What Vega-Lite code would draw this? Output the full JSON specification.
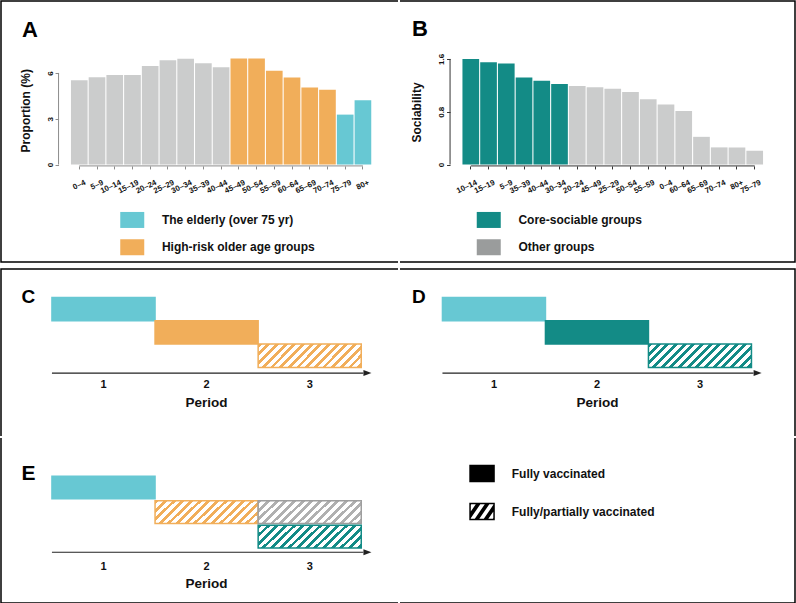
{
  "$schema": "https://vega.github.io/schema/vega-lite/v6.json",
  "background": "white",
  "padding": 0,
  "config": {"font": "Liberation Sans", "view": {"stroke": null}, "legend": {"padding": 0}},
  "datasets": {
    "proportion": [
      {"age": "0–4", "value": 5.52, "group": "Other"},
      {"age": "5–9", "value": 5.72, "group": "Other"},
      {"age": "10–14", "value": 5.87, "group": "Other"},
      {"age": "15–19", "value": 5.87, "group": "Other"},
      {"age": "20–24", "value": 6.46, "group": "Other"},
      {"age": "25–29", "value": 6.83, "group": "Other"},
      {"age": "30–34", "value": 6.92, "group": "Other"},
      {"age": "35–39", "value": 6.63, "group": "Other"},
      {"age": "40–44", "value": 6.37, "group": "Other"},
      {"age": "45–49", "value": 6.94, "group": "High-risk older age groups"},
      {"age": "50–54", "value": 6.94, "group": "High-risk older age groups"},
      {"age": "55–59", "value": 6.15, "group": "High-risk older age groups"},
      {"age": "60–64", "value": 5.7, "group": "High-risk older age groups"},
      {"age": "65–69", "value": 5.04, "group": "High-risk older age groups"},
      {"age": "70–74", "value": 4.89, "group": "High-risk older age groups"},
      {"age": "75–79", "value": 3.27, "group": "The elderly (over 75 yr)"},
      {"age": "80+", "value": 4.21, "group": "The elderly (over 75 yr)"}
    ],
    "sociability": [
      {"age": "10–14", "value": 1.6, "group": "Core-sociable groups"},
      {"age": "15–19", "value": 1.55, "group": "Core-sociable groups"},
      {"age": "5–9", "value": 1.53, "group": "Core-sociable groups"},
      {"age": "35–39", "value": 1.32, "group": "Core-sociable groups"},
      {"age": "40–44", "value": 1.27, "group": "Core-sociable groups"},
      {"age": "30–34", "value": 1.22, "group": "Core-sociable groups"},
      {"age": "20–24", "value": 1.19, "group": "Other groups"},
      {"age": "45–49", "value": 1.17, "group": "Other groups"},
      {"age": "25–29", "value": 1.15, "group": "Other groups"},
      {"age": "50–54", "value": 1.1, "group": "Other groups"},
      {"age": "55–59", "value": 0.99, "group": "Other groups"},
      {"age": "0–4", "value": 0.91, "group": "Other groups"},
      {"age": "60–64", "value": 0.81, "group": "Other groups"},
      {"age": "65–69", "value": 0.42, "group": "Other groups"},
      {"age": "70–74", "value": 0.26, "group": "Other groups"},
      {"age": "80+", "value": 0.26, "group": "Other groups"},
      {"age": "75–79", "value": 0.21, "group": "Other groups"}
    ],
    "panelC": [
      {"period": 1, "level": 1, "group": "elderly", "status": "full"},
      {"period": 2, "level": 2, "group": "highrisk", "status": "full"},
      {"period": 3, "level": 3, "group": "highrisk", "status": "partial"}
    ],
    "panelD": [
      {"period": 1, "level": 1, "group": "elderly", "status": "full"},
      {"period": 2, "level": 2, "group": "core", "status": "full"},
      {"period": 3, "level": 3, "group": "core", "status": "partial"}
    ],
    "panelE": [
      {"period": 1, "level": 1, "group": "elderly", "status": "full"},
      {"period": 2, "level": 2, "group": "highrisk", "status": "partial"},
      {"period": 3, "level": 2, "group": "other", "status": "partial"},
      {"period": 3, "level": 3, "group": "core", "status": "partial"}
    ],
    "status": [
      {"status": "Fully vaccinated"},
      {"status": "Fully/partially vaccinated"}
    ]
  },
  "spacing": 5,
  "resolve": {"scale": {"color": "independent", "fill": "independent", "stroke": "independent", "shape": "independent"}},
  "vconcat": [
    {
      "spacing": 0,
      "resolve": {"scale": {"color": "independent", "fill": "independent", "stroke": "independent", "shape": "independent"}},
      "hconcat": [
        {
          "width": 397, "height": 261,
          "view": {"stroke": "#000000", "strokeWidth": 1.5, "strokeDash": [397, 261, 658]},
          "title": {"text": "A", "anchor": "start", "frame": "group", "orient": "top", "offset": -41, "dx": 21, "fontSize": 22, "fontWeight": "bold", "color": "#000000"},
          "layer": [
            {
              "data": {"name": "proportion"},
              "mark": {"type": "bar"},
              "encoding": {
                "x": {"field": "age", "type": "nominal", "sort": null,
                  "scale": {"domain": ["0–4","5–9","10–14","15–19","20–24","25–29","30–34","35–39","40–44","45–49","50–54","55–59","60–64","65–69","70–74","75–79","80+"], "range": [69.95, 370.25], "paddingInner": 0.06, "paddingOuter": 0},
                  "axis": {"orient": "bottom", "offset": -96.05, "domain": false, "ticks": true, "tickSize": 3, "tickColor": "#8C8C8C", "tickWidth": 1, "labelAngle": -25, "labelAlign": "right", "labelBaseline": "middle", "labelPadding": 13, "labelOffset": 6, "labelFontSize": 7.8, "labelFontWeight": "bold", "labelColor": "#111111", "labelOverlap": false, "labelBound": false, "title": null, "grid": false}},
                "y": {"field": "value", "type": "quantitative",
                  "scale": {"domain": [-6.382, 10.71], "nice": false, "zero": false},
                  "axis": {"orient": "left", "offset": -57.55, "values": [0, 3, 6], "format": "~g", "domain": false, "ticks": true, "tickSize": 3.5, "tickColor": "#8C8C8C", "labelAngle": -90, "labelAlign": "center", "labelBaseline": "middle", "labelPadding": 4.7, "labelFontSize": 8, "labelFontWeight": "bold", "labelColor": "#111111", "grid": false, "title": "Proportion (%)", "titleFontSize": 12, "titleFontWeight": "bold", "titleColor": "#111111", "titleAngle": -90, "titleX": -33.3, "titleY": 109.25, "titleAlign": "center", "titleBaseline": "middle"}},
                "y2": {"datum": 0},
                "color": {"field": "group", "type": "nominal",
                  "scale": {"domain": ["The elderly (over 75 yr)", "High-risk older age groups", "Other"], "range": ["#67C8D3", "#F1AE5A", "#CBCCCC"]},
                  "legend": {"orient": "none", "legendX": 123.25, "legendY": 210.95, "title": null, "values": ["The elderly (over 75 yr)", "High-risk older age groups"], "symbolType": "M-1.5,-1L1.5,-1L1.5,1L-1.5,1Z", "symbolSize": 256, "symbolStrokeWidth": 0, "labelFontSize": 12, "labelFontWeight": "bold", "labelColor": "#111111", "labelOffset": 21.7, "labelLimit": 300, "rowPadding": 11.3, "padding": 0}}
              }
            },
            {
              "data": {"values": [{}]},
              "mark": {"type": "rule", "color": "#8C8C8C", "strokeWidth": 1},
              "encoding": {"x": {"datum": "0–4", "type": "nominal", "bandPosition": -0.744}, "y": {"datum": 0, "type": "quantitative"}, "y2": {"datum": 6}}
            },
            {
              "data": {"values": [{}]},
              "mark": {"type": "rule", "color": "#8C8C8C", "strokeWidth": 1},
              "encoding": {"x": {"datum": "0–4", "type": "nominal", "bandPosition": 0.5}, "x2": {"datum": "80+", "bandPosition": 0.5}, "y": {"datum": -0.09, "type": "quantitative"}}
            }
          ]
        },
        {
          "width": 395, "height": 261,
          "view": {"stroke": "#000000", "strokeWidth": 1.5, "strokeDash": [1051, 261]},
          "title": {"text": "B", "anchor": "start", "frame": "group", "orient": "top", "offset": -40.3, "dx": 12, "fontSize": 22, "fontWeight": "bold", "color": "#000000"},
          "layer": [
            {
              "data": {"name": "sociability"},
              "mark": {"type": "bar"},
              "encoding": {
                "x": {"field": "age", "type": "nominal", "sort": null,
                  "scale": {"domain": ["10–14","15–19","5–9","35–39","40–44","30–34","20–24","45–49","25–29","50–54","55–59","0–4","60–64","65–69","70–74","80+","75–79"], "range": [62.45, 363.05], "paddingInner": 0.06, "paddingOuter": 0},
                  "axis": {"orient": "bottom", "offset": -96.05, "domain": false, "ticks": true, "tickSize": 3, "tickColor": "#333333", "tickWidth": 1, "labelAngle": -25, "labelAlign": "right", "labelBaseline": "middle", "labelPadding": 13, "labelOffset": 6, "labelFontSize": 7.8, "labelFontWeight": "bold", "labelColor": "#111111", "labelOverlap": false, "labelBound": false, "title": null, "grid": false}},
                "y": {"field": "value", "type": "quantitative",
                  "scale": {"domain": [-1.4765, 2.478], "nice": false, "zero": false},
                  "axis": {"orient": "left", "offset": -50.05, "values": [0, 0.8, 1.6], "format": "~g", "domain": false, "ticks": true, "tickSize": 3.5, "tickColor": "#333333", "labelAngle": -90, "labelAlign": "center", "labelBaseline": "middle", "labelPadding": 4.7, "labelFontSize": 8, "labelFontWeight": "bold", "labelColor": "#111111", "grid": false, "title": "Sociability", "titleFontSize": 12, "titleFontWeight": "bold", "titleColor": "#111111", "titleAngle": -90, "titleX": -33.3, "titleY": 110.95, "titleAlign": "center", "titleBaseline": "middle"}},
                "y2": {"datum": 0},
                "color": {"field": "group", "type": "nominal",
                  "scale": {"domain": ["Core-sociable groups", "Other groups"], "range": ["#138B86", "#9A9C9C"]},
                  "condition": {"test": "datum.group === 'Other groups'", "value": "#CBCCCC"},
                  "legend": {"orient": "none", "legendX": 80.75, "legendY": 210.95, "title": null, "symbolType": "M-1.5,-1L1.5,-1L1.5,1L-1.5,1Z", "symbolSize": 256, "symbolStrokeWidth": 0, "labelFontSize": 12, "labelFontWeight": "bold", "labelColor": "#111111", "labelOffset": 21.7, "labelLimit": 300, "rowPadding": 11.3, "padding": 0}}
              }
            },
            {
              "data": {"values": [{}]},
              "mark": {"type": "rule", "color": "#333333", "strokeWidth": 1},
              "encoding": {"x": {"datum": "10–14", "type": "nominal", "bandPosition": -0.743}, "y": {"datum": 0, "type": "quantitative"}, "y2": {"datum": 1.6}}
            },
            {
              "data": {"values": [{}]},
              "mark": {"type": "rule", "color": "#333333", "strokeWidth": 1},
              "encoding": {"x": {"datum": "10–14", "type": "nominal", "bandPosition": 0.5}, "x2": {"datum": "75–79", "bandPosition": 0.5}, "y": {"datum": -0.021, "type": "quantitative"}}
            }
          ]
        }
      ]
    },
    {
      "spacing": 0,
      "resolve": {"scale": {"color": "independent", "fill": "independent", "stroke": "independent", "shape": "independent"}},
      "vconcat": [
        {
          "spacing": 0,
          "resolve": {"scale": {"color": "independent", "fill": "independent", "stroke": "independent", "shape": "independent"}},
          "hconcat": [
            {
              "width": 397, "height": 167,
              "view": {"stroke": "#000000", "strokeWidth": 1.5, "strokeDash": [397, 564, 167]},
              "title": {"text": "C", "anchor": "start", "frame": "group", "orient": "top", "offset": -38.2, "dx": 20.5, "fontSize": 19, "fontWeight": "bold", "color": "#000000"},
              "layer": [
                {
                  "data": {"name": "panelC"},
                  "mark": {"type": "rect", "strokeWidth": 1.5},
                  "encoding": {
                    "x": {"field": "period", "type": "ordinal",
                      "scale": {"domain": [1, 2, 3], "range": [50.95, 360.25], "paddingInner": 0, "paddingOuter": 0},
                      "axis": {"orient": "bottom", "offset": -62.95, "values": [1, 2, 3], "domain": false, "ticks": false, "labelAngle": 0, "labelAlign": "center", "labelBaseline": "top", "labelPadding": 5.9, "labelFontSize": 11, "labelFontWeight": "bold", "labelColor": "#111111", "grid": false, "title": "Period", "titleFontSize": 13.5, "titleFontWeight": "bold", "titleColor": "#111111", "titleX": 205, "titleY": 22.5, "titleAlign": "center", "titleBaseline": "top"}},
                    "y": {"field": "level", "type": "ordinal",
                      "scale": {"domain": [1, 2, 3], "range": [28.45, 98.45], "paddingInner": 0, "paddingOuter": 0},
                      "axis": null},
                    "stroke": {"field": "group", "type": "nominal", "scale": {"domain": ["elderly", "highrisk", "core", "other"], "range": ["#67C8D3", "#F1AE5A", "#138B86", "#9E9E9E"]}, "legend": null},
                    "fill": {"field": "group", "type": "nominal", "scale": {"domain": ["elderly", "highrisk", "core", "other"], "range": ["#67C8D3", "#F1AE5A", "#138B86", "#B0B0B0"]}, "legend": null,
                      "condition": [
                        {"test": "datum.status === 'partial' && datum.group === 'highrisk'", "value": {"gradient": "linear", "x1": 0, "y1": 0, "x2": 1.2, "y2": 0.27, "stops": [
                          {"offset": 0, "color": "#F1AE5A"}, {"offset": 0.03, "color": "#F1AE5A"}, {"offset": 0.03, "color": "#FFFFFF"}, {"offset": 0.0667, "color": "#FFFFFF"},
                          {"offset": 0.0667, "color": "#F1AE5A"}, {"offset": 0.0967, "color": "#F1AE5A"}, {"offset": 0.0967, "color": "#FFFFFF"}, {"offset": 0.1333, "color": "#FFFFFF"},
                          {"offset": 0.1333, "color": "#F1AE5A"}, {"offset": 0.1633, "color": "#F1AE5A"}, {"offset": 0.1633, "color": "#FFFFFF"}, {"offset": 0.2, "color": "#FFFFFF"},
                          {"offset": 0.2, "color": "#F1AE5A"}, {"offset": 0.23, "color": "#F1AE5A"}, {"offset": 0.23, "color": "#FFFFFF"}, {"offset": 0.2667, "color": "#FFFFFF"},
                          {"offset": 0.2667, "color": "#F1AE5A"}, {"offset": 0.2967, "color": "#F1AE5A"}, {"offset": 0.2967, "color": "#FFFFFF"}, {"offset": 0.3333, "color": "#FFFFFF"},
                          {"offset": 0.3333, "color": "#F1AE5A"}, {"offset": 0.3633, "color": "#F1AE5A"}, {"offset": 0.3633, "color": "#FFFFFF"}, {"offset": 0.4, "color": "#FFFFFF"},
                          {"offset": 0.4, "color": "#F1AE5A"}, {"offset": 0.43, "color": "#F1AE5A"}, {"offset": 0.43, "color": "#FFFFFF"}, {"offset": 0.4667, "color": "#FFFFFF"},
                          {"offset": 0.4667, "color": "#F1AE5A"}, {"offset": 0.4967, "color": "#F1AE5A"}, {"offset": 0.4967, "color": "#FFFFFF"}, {"offset": 0.5333, "color": "#FFFFFF"},
                          {"offset": 0.5333, "color": "#F1AE5A"}, {"offset": 0.5633, "color": "#F1AE5A"}, {"offset": 0.5633, "color": "#FFFFFF"}, {"offset": 0.6, "color": "#FFFFFF"},
                          {"offset": 0.6, "color": "#F1AE5A"}, {"offset": 0.63, "color": "#F1AE5A"}, {"offset": 0.63, "color": "#FFFFFF"}, {"offset": 0.6667, "color": "#FFFFFF"},
                          {"offset": 0.6667, "color": "#F1AE5A"}, {"offset": 0.6967, "color": "#F1AE5A"}, {"offset": 0.6967, "color": "#FFFFFF"}, {"offset": 0.7333, "color": "#FFFFFF"},
                          {"offset": 0.7333, "color": "#F1AE5A"}, {"offset": 0.7633, "color": "#F1AE5A"}, {"offset": 0.7633, "color": "#FFFFFF"}, {"offset": 0.8, "color": "#FFFFFF"},
                          {"offset": 0.8, "color": "#F1AE5A"}, {"offset": 0.83, "color": "#F1AE5A"}, {"offset": 0.83, "color": "#FFFFFF"}, {"offset": 0.8667, "color": "#FFFFFF"},
                          {"offset": 0.8667, "color": "#F1AE5A"}, {"offset": 0.8967, "color": "#F1AE5A"}, {"offset": 0.8967, "color": "#FFFFFF"}, {"offset": 0.9333, "color": "#FFFFFF"},
                          {"offset": 0.9333, "color": "#F1AE5A"}, {"offset": 0.9633, "color": "#F1AE5A"}, {"offset": 0.9633, "color": "#FFFFFF"}, {"offset": 1, "color": "#FFFFFF"}]}}
                      ]}
                  }
                },
                {
                  "data": {"values": [{}]},
                  "mark": {"type": "rule", "color": "#222222", "strokeWidth": 1.2},
                  "encoding": {"x": {"datum": 1, "type": "ordinal", "bandPosition": 0}, "x2": {"datum": 3, "bandPosition": 1.02}, "y": {"datum": 3, "type": "ordinal", "bandPosition": 1.24}}
                },
                {
                  "data": {"values": [{}]},
                  "mark": {"type": "point", "shape": "M-1,-0.75L1,0L-1,0.75Z", "size": 64, "filled": true, "color": "#222222", "opacity": 1},
                  "encoding": {"x": {"datum": 3, "type": "ordinal", "bandPosition": 1.06}, "y": {"datum": 3, "type": "ordinal", "bandPosition": 1.24}}
                }
              ]
            },
            {
              "width": 395, "height": 167,
              "view": {"stroke": "#000000", "strokeWidth": 1.5, "strokeDash": [562, 562]},
              "title": {"text": "D", "anchor": "start", "frame": "group", "orient": "top", "offset": -38.2, "dx": 12, "fontSize": 19, "fontWeight": "bold", "color": "#000000"},
              "layer": [
                {
                  "data": {"name": "panelD"},
                  "mark": {"type": "rect", "strokeWidth": 1.5},
                  "encoding": {
                    "x": {"field": "period", "type": "ordinal",
                      "scale": {"domain": [1, 2, 3], "range": [42.45, 351.45], "paddingInner": 0, "paddingOuter": 0},
                      "axis": {"orient": "bottom", "offset": -62.95, "values": [1, 2, 3], "domain": false, "ticks": false, "labelAngle": 0, "labelAlign": "center", "labelBaseline": "top", "labelPadding": 5.9, "labelFontSize": 11, "labelFontWeight": "bold", "labelColor": "#111111", "grid": false, "title": "Period", "titleFontSize": 13.5, "titleFontWeight": "bold", "titleColor": "#111111", "titleX": 197, "titleY": 22.5, "titleAlign": "center", "titleBaseline": "top"}},
                    "y": {"field": "level", "type": "ordinal",
                      "scale": {"domain": [1, 2, 3], "range": [28.45, 98.45], "paddingInner": 0, "paddingOuter": 0},
                      "axis": null},
                    "stroke": {"field": "group", "type": "nominal", "scale": {"domain": ["elderly", "highrisk", "core", "other"], "range": ["#67C8D3", "#F1AE5A", "#138B86", "#9E9E9E"]}, "legend": null},
                    "fill": {"field": "group", "type": "nominal", "scale": {"domain": ["elderly", "highrisk", "core", "other"], "range": ["#67C8D3", "#F1AE5A", "#138B86", "#B0B0B0"]}, "legend": null,
                      "condition": [
                        {"test": "datum.status === 'partial' && datum.group === 'core'", "value": {"gradient": "linear", "x1": 0, "y1": 0, "x2": 1.2, "y2": 0.27, "stops": [
                          {"offset": 0, "color": "#138B86"}, {"offset": 0.03, "color": "#138B86"}, {"offset": 0.03, "color": "#FFFFFF"}, {"offset": 0.0667, "color": "#FFFFFF"},
                          {"offset": 0.0667, "color": "#138B86"}, {"offset": 0.0967, "color": "#138B86"}, {"offset": 0.0967, "color": "#FFFFFF"}, {"offset": 0.1333, "color": "#FFFFFF"},
                          {"offset": 0.1333, "color": "#138B86"}, {"offset": 0.1633, "color": "#138B86"}, {"offset": 0.1633, "color": "#FFFFFF"}, {"offset": 0.2, "color": "#FFFFFF"},
                          {"offset": 0.2, "color": "#138B86"}, {"offset": 0.23, "color": "#138B86"}, {"offset": 0.23, "color": "#FFFFFF"}, {"offset": 0.2667, "color": "#FFFFFF"},
                          {"offset": 0.2667, "color": "#138B86"}, {"offset": 0.2967, "color": "#138B86"}, {"offset": 0.2967, "color": "#FFFFFF"}, {"offset": 0.3333, "color": "#FFFFFF"},
                          {"offset": 0.3333, "color": "#138B86"}, {"offset": 0.3633, "color": "#138B86"}, {"offset": 0.3633, "color": "#FFFFFF"}, {"offset": 0.4, "color": "#FFFFFF"},
                          {"offset": 0.4, "color": "#138B86"}, {"offset": 0.43, "color": "#138B86"}, {"offset": 0.43, "color": "#FFFFFF"}, {"offset": 0.4667, "color": "#FFFFFF"},
                          {"offset": 0.4667, "color": "#138B86"}, {"offset": 0.4967, "color": "#138B86"}, {"offset": 0.4967, "color": "#FFFFFF"}, {"offset": 0.5333, "color": "#FFFFFF"},
                          {"offset": 0.5333, "color": "#138B86"}, {"offset": 0.5633, "color": "#138B86"}, {"offset": 0.5633, "color": "#FFFFFF"}, {"offset": 0.6, "color": "#FFFFFF"},
                          {"offset": 0.6, "color": "#138B86"}, {"offset": 0.63, "color": "#138B86"}, {"offset": 0.63, "color": "#FFFFFF"}, {"offset": 0.6667, "color": "#FFFFFF"},
                          {"offset": 0.6667, "color": "#138B86"}, {"offset": 0.6967, "color": "#138B86"}, {"offset": 0.6967, "color": "#FFFFFF"}, {"offset": 0.7333, "color": "#FFFFFF"},
                          {"offset": 0.7333, "color": "#138B86"}, {"offset": 0.7633, "color": "#138B86"}, {"offset": 0.7633, "color": "#FFFFFF"}, {"offset": 0.8, "color": "#FFFFFF"},
                          {"offset": 0.8, "color": "#138B86"}, {"offset": 0.83, "color": "#138B86"}, {"offset": 0.83, "color": "#FFFFFF"}, {"offset": 0.8667, "color": "#FFFFFF"},
                          {"offset": 0.8667, "color": "#138B86"}, {"offset": 0.8967, "color": "#138B86"}, {"offset": 0.8967, "color": "#FFFFFF"}, {"offset": 0.9333, "color": "#FFFFFF"},
                          {"offset": 0.9333, "color": "#138B86"}, {"offset": 0.9633, "color": "#138B86"}, {"offset": 0.9633, "color": "#FFFFFF"}, {"offset": 1, "color": "#FFFFFF"}]}}
                      ]}
                  }
                },
                {
                  "data": {"values": [{}]},
                  "mark": {"type": "rule", "color": "#222222", "strokeWidth": 1.2},
                  "encoding": {"x": {"datum": 1, "type": "ordinal", "bandPosition": 0}, "x2": {"datum": 3, "bandPosition": 1.02}, "y": {"datum": 3, "type": "ordinal", "bandPosition": 1.24}}
                },
                {
                  "data": {"values": [{}]},
                  "mark": {"type": "point", "shape": "M-1,-0.75L1,0L-1,0.75Z", "size": 64, "filled": true, "color": "#222222", "opacity": 1},
                  "encoding": {"x": {"datum": 3, "type": "ordinal", "bandPosition": 1.06}, "y": {"datum": 3, "type": "ordinal", "bandPosition": 1.24}}
                }
              ]
            }
          ]
        },
        {
          "spacing": 0,
          "resolve": {"scale": {"color": "independent", "fill": "independent", "stroke": "independent", "shape": "independent"}},
          "hconcat": [
            {
              "width": 397, "height": 165,
              "view": {"stroke": "#000000", "strokeWidth": 1.5, "strokeDash": [0, 562, 562]},
              "title": {"text": "E", "anchor": "start", "frame": "group", "orient": "top", "offset": -46.3, "dx": 20.5, "fontSize": 21, "fontWeight": "bold", "color": "#000000"},
              "layer": [
                {
                  "data": {"name": "panelE"},
                  "mark": {"type": "rect", "strokeWidth": 1.5},
                  "encoding": {
                    "x": {"field": "period", "type": "ordinal",
                      "scale": {"domain": [1, 2, 3], "range": [50.95, 360.25], "paddingInner": 0, "paddingOuter": 0},
                      "axis": {"orient": "bottom", "offset": -50.75, "values": [1, 2, 3], "domain": false, "ticks": false, "labelAngle": 0, "labelAlign": "center", "labelBaseline": "top", "labelPadding": 7.9, "labelFontSize": 11, "labelFontWeight": "bold", "labelColor": "#111111", "grid": false, "title": "Period", "titleFontSize": 13.5, "titleFontWeight": "bold", "titleColor": "#111111", "titleX": 205, "titleY": 24, "titleAlign": "center", "titleBaseline": "top"}},
                    "y": {"field": "level", "type": "ordinal",
                      "scale": {"domain": [1, 2, 3], "range": [38.25, 109.95], "paddingInner": 0.08, "paddingOuter": 0},
                      "axis": null},
                    "stroke": {"field": "group", "type": "nominal", "scale": {"domain": ["elderly", "highrisk", "core", "other"], "range": ["#67C8D3", "#F1AE5A", "#138B86", "#9E9E9E"]}, "legend": null},
                    "fill": {"field": "group", "type": "nominal", "scale": {"domain": ["elderly", "highrisk", "core", "other"], "range": ["#67C8D3", "#F1AE5A", "#138B86", "#B0B0B0"]}, "legend": null,
                      "condition": [
                        {"test": "datum.status === 'partial' && datum.group === 'highrisk'", "value": {"gradient": "linear", "x1": 0, "y1": 0, "x2": 1.2, "y2": 0.27, "stops": [
                          {"offset": 0, "color": "#F1AE5A"}, {"offset": 0.03, "color": "#F1AE5A"}, {"offset": 0.03, "color": "#FFFFFF"}, {"offset": 0.0667, "color": "#FFFFFF"},
                          {"offset": 0.0667, "color": "#F1AE5A"}, {"offset": 0.0967, "color": "#F1AE5A"}, {"offset": 0.0967, "color": "#FFFFFF"}, {"offset": 0.1333, "color": "#FFFFFF"},
                          {"offset": 0.1333, "color": "#F1AE5A"}, {"offset": 0.1633, "color": "#F1AE5A"}, {"offset": 0.1633, "color": "#FFFFFF"}, {"offset": 0.2, "color": "#FFFFFF"},
                          {"offset": 0.2, "color": "#F1AE5A"}, {"offset": 0.23, "color": "#F1AE5A"}, {"offset": 0.23, "color": "#FFFFFF"}, {"offset": 0.2667, "color": "#FFFFFF"},
                          {"offset": 0.2667, "color": "#F1AE5A"}, {"offset": 0.2967, "color": "#F1AE5A"}, {"offset": 0.2967, "color": "#FFFFFF"}, {"offset": 0.3333, "color": "#FFFFFF"},
                          {"offset": 0.3333, "color": "#F1AE5A"}, {"offset": 0.3633, "color": "#F1AE5A"}, {"offset": 0.3633, "color": "#FFFFFF"}, {"offset": 0.4, "color": "#FFFFFF"},
                          {"offset": 0.4, "color": "#F1AE5A"}, {"offset": 0.43, "color": "#F1AE5A"}, {"offset": 0.43, "color": "#FFFFFF"}, {"offset": 0.4667, "color": "#FFFFFF"},
                          {"offset": 0.4667, "color": "#F1AE5A"}, {"offset": 0.4967, "color": "#F1AE5A"}, {"offset": 0.4967, "color": "#FFFFFF"}, {"offset": 0.5333, "color": "#FFFFFF"},
                          {"offset": 0.5333, "color": "#F1AE5A"}, {"offset": 0.5633, "color": "#F1AE5A"}, {"offset": 0.5633, "color": "#FFFFFF"}, {"offset": 0.6, "color": "#FFFFFF"},
                          {"offset": 0.6, "color": "#F1AE5A"}, {"offset": 0.63, "color": "#F1AE5A"}, {"offset": 0.63, "color": "#FFFFFF"}, {"offset": 0.6667, "color": "#FFFFFF"},
                          {"offset": 0.6667, "color": "#F1AE5A"}, {"offset": 0.6967, "color": "#F1AE5A"}, {"offset": 0.6967, "color": "#FFFFFF"}, {"offset": 0.7333, "color": "#FFFFFF"},
                          {"offset": 0.7333, "color": "#F1AE5A"}, {"offset": 0.7633, "color": "#F1AE5A"}, {"offset": 0.7633, "color": "#FFFFFF"}, {"offset": 0.8, "color": "#FFFFFF"},
                          {"offset": 0.8, "color": "#F1AE5A"}, {"offset": 0.83, "color": "#F1AE5A"}, {"offset": 0.83, "color": "#FFFFFF"}, {"offset": 0.8667, "color": "#FFFFFF"},
                          {"offset": 0.8667, "color": "#F1AE5A"}, {"offset": 0.8967, "color": "#F1AE5A"}, {"offset": 0.8967, "color": "#FFFFFF"}, {"offset": 0.9333, "color": "#FFFFFF"},
                          {"offset": 0.9333, "color": "#F1AE5A"}, {"offset": 0.9633, "color": "#F1AE5A"}, {"offset": 0.9633, "color": "#FFFFFF"}, {"offset": 1, "color": "#FFFFFF"}]}},
                        {"test": "datum.status === 'partial' && datum.group === 'core'", "value": {"gradient": "linear", "x1": 0, "y1": 0, "x2": 1.2, "y2": 0.27, "stops": [
                          {"offset": 0, "color": "#138B86"}, {"offset": 0.03, "color": "#138B86"}, {"offset": 0.03, "color": "#FFFFFF"}, {"offset": 0.0667, "color": "#FFFFFF"},
                          {"offset": 0.0667, "color": "#138B86"}, {"offset": 0.0967, "color": "#138B86"}, {"offset": 0.0967, "color": "#FFFFFF"}, {"offset": 0.1333, "color": "#FFFFFF"},
                          {"offset": 0.1333, "color": "#138B86"}, {"offset": 0.1633, "color": "#138B86"}, {"offset": 0.1633, "color": "#FFFFFF"}, {"offset": 0.2, "color": "#FFFFFF"},
                          {"offset": 0.2, "color": "#138B86"}, {"offset": 0.23, "color": "#138B86"}, {"offset": 0.23, "color": "#FFFFFF"}, {"offset": 0.2667, "color": "#FFFFFF"},
                          {"offset": 0.2667, "color": "#138B86"}, {"offset": 0.2967, "color": "#138B86"}, {"offset": 0.2967, "color": "#FFFFFF"}, {"offset": 0.3333, "color": "#FFFFFF"},
                          {"offset": 0.3333, "color": "#138B86"}, {"offset": 0.3633, "color": "#138B86"}, {"offset": 0.3633, "color": "#FFFFFF"}, {"offset": 0.4, "color": "#FFFFFF"},
                          {"offset": 0.4, "color": "#138B86"}, {"offset": 0.43, "color": "#138B86"}, {"offset": 0.43, "color": "#FFFFFF"}, {"offset": 0.4667, "color": "#FFFFFF"},
                          {"offset": 0.4667, "color": "#138B86"}, {"offset": 0.4967, "color": "#138B86"}, {"offset": 0.4967, "color": "#FFFFFF"}, {"offset": 0.5333, "color": "#FFFFFF"},
                          {"offset": 0.5333, "color": "#138B86"}, {"offset": 0.5633, "color": "#138B86"}, {"offset": 0.5633, "color": "#FFFFFF"}, {"offset": 0.6, "color": "#FFFFFF"},
                          {"offset": 0.6, "color": "#138B86"}, {"offset": 0.63, "color": "#138B86"}, {"offset": 0.63, "color": "#FFFFFF"}, {"offset": 0.6667, "color": "#FFFFFF"},
                          {"offset": 0.6667, "color": "#138B86"}, {"offset": 0.6967, "color": "#138B86"}, {"offset": 0.6967, "color": "#FFFFFF"}, {"offset": 0.7333, "color": "#FFFFFF"},
                          {"offset": 0.7333, "color": "#138B86"}, {"offset": 0.7633, "color": "#138B86"}, {"offset": 0.7633, "color": "#FFFFFF"}, {"offset": 0.8, "color": "#FFFFFF"},
                          {"offset": 0.8, "color": "#138B86"}, {"offset": 0.83, "color": "#138B86"}, {"offset": 0.83, "color": "#FFFFFF"}, {"offset": 0.8667, "color": "#FFFFFF"},
                          {"offset": 0.8667, "color": "#138B86"}, {"offset": 0.8967, "color": "#138B86"}, {"offset": 0.8967, "color": "#FFFFFF"}, {"offset": 0.9333, "color": "#FFFFFF"},
                          {"offset": 0.9333, "color": "#138B86"}, {"offset": 0.9633, "color": "#138B86"}, {"offset": 0.9633, "color": "#FFFFFF"}, {"offset": 1, "color": "#FFFFFF"}]}},
                        {"test": "datum.status === 'partial' && datum.group === 'other'", "value": {"gradient": "linear", "x1": 0, "y1": 0, "x2": 1.2, "y2": 0.27, "stops": [
                          {"offset": 0, "color": "#B0B0B0"}, {"offset": 0.03, "color": "#B0B0B0"}, {"offset": 0.03, "color": "#FFFFFF"}, {"offset": 0.0667, "color": "#FFFFFF"},
                          {"offset": 0.0667, "color": "#B0B0B0"}, {"offset": 0.0967, "color": "#B0B0B0"}, {"offset": 0.0967, "color": "#FFFFFF"}, {"offset": 0.1333, "color": "#FFFFFF"},
                          {"offset": 0.1333, "color": "#B0B0B0"}, {"offset": 0.1633, "color": "#B0B0B0"}, {"offset": 0.1633, "color": "#FFFFFF"}, {"offset": 0.2, "color": "#FFFFFF"},
                          {"offset": 0.2, "color": "#B0B0B0"}, {"offset": 0.23, "color": "#B0B0B0"}, {"offset": 0.23, "color": "#FFFFFF"}, {"offset": 0.2667, "color": "#FFFFFF"},
                          {"offset": 0.2667, "color": "#B0B0B0"}, {"offset": 0.2967, "color": "#B0B0B0"}, {"offset": 0.2967, "color": "#FFFFFF"}, {"offset": 0.3333, "color": "#FFFFFF"},
                          {"offset": 0.3333, "color": "#B0B0B0"}, {"offset": 0.3633, "color": "#B0B0B0"}, {"offset": 0.3633, "color": "#FFFFFF"}, {"offset": 0.4, "color": "#FFFFFF"},
                          {"offset": 0.4, "color": "#B0B0B0"}, {"offset": 0.43, "color": "#B0B0B0"}, {"offset": 0.43, "color": "#FFFFFF"}, {"offset": 0.4667, "color": "#FFFFFF"},
                          {"offset": 0.4667, "color": "#B0B0B0"}, {"offset": 0.4967, "color": "#B0B0B0"}, {"offset": 0.4967, "color": "#FFFFFF"}, {"offset": 0.5333, "color": "#FFFFFF"},
                          {"offset": 0.5333, "color": "#B0B0B0"}, {"offset": 0.5633, "color": "#B0B0B0"}, {"offset": 0.5633, "color": "#FFFFFF"}, {"offset": 0.6, "color": "#FFFFFF"},
                          {"offset": 0.6, "color": "#B0B0B0"}, {"offset": 0.63, "color": "#B0B0B0"}, {"offset": 0.63, "color": "#FFFFFF"}, {"offset": 0.6667, "color": "#FFFFFF"},
                          {"offset": 0.6667, "color": "#B0B0B0"}, {"offset": 0.6967, "color": "#B0B0B0"}, {"offset": 0.6967, "color": "#FFFFFF"}, {"offset": 0.7333, "color": "#FFFFFF"},
                          {"offset": 0.7333, "color": "#B0B0B0"}, {"offset": 0.7633, "color": "#B0B0B0"}, {"offset": 0.7633, "color": "#FFFFFF"}, {"offset": 0.8, "color": "#FFFFFF"},
                          {"offset": 0.8, "color": "#B0B0B0"}, {"offset": 0.83, "color": "#B0B0B0"}, {"offset": 0.83, "color": "#FFFFFF"}, {"offset": 0.8667, "color": "#FFFFFF"},
                          {"offset": 0.8667, "color": "#B0B0B0"}, {"offset": 0.8967, "color": "#B0B0B0"}, {"offset": 0.8967, "color": "#FFFFFF"}, {"offset": 0.9333, "color": "#FFFFFF"},
                          {"offset": 0.9333, "color": "#B0B0B0"}, {"offset": 0.9633, "color": "#B0B0B0"}, {"offset": 0.9633, "color": "#FFFFFF"}, {"offset": 1, "color": "#FFFFFF"}]}}
                      ]}
                  }
                },
                {
                  "data": {"values": [{}]},
                  "mark": {"type": "rule", "color": "#222222", "strokeWidth": 1.2},
                  "encoding": {"x": {"datum": 1, "type": "ordinal", "bandPosition": 0}, "x2": {"datum": 3, "bandPosition": 1.02}, "y": {"datum": 3, "type": "ordinal", "bandPosition": 1.191}}
                },
                {
                  "data": {"values": [{}]},
                  "mark": {"type": "point", "shape": "M-1,-0.75L1,0L-1,0.75Z", "size": 64, "filled": true, "color": "#222222", "opacity": 1},
                  "encoding": {"x": {"datum": 3, "type": "ordinal", "bandPosition": 1.06}, "y": {"datum": 3, "type": "ordinal", "bandPosition": 1.191}}
                }
              ]
            },
            {
              "width": 395, "height": 165,
              "view": {"stroke": "#000000", "strokeWidth": 1.5, "strokeDash": [0, 395, 560, 165]},
              "data": {"name": "status"},
              "mark": {"type": "point", "size": 0, "filled": true, "opacity": 1, "color": "#000000"},
              "encoding": {
                "shape": {"field": "status", "type": "nominal",
                  "scale": {"domain": ["Fully vaccinated", "Fully/partially vaccinated"],
                    "range": [
                      "M-1.594,-1.094L1.594,-1.094L1.594,1.094L-1.594,1.094Z",
                      "M-1.594,-1.094L1.594,-1.094L1.594,1.094L-1.594,1.094ZM-1.406,-0.906L-1.406,0.906L1.406,0.906L1.406,-0.906ZM-1.5,0.136L-0.719,-1L-0.156,-1L-1.5,0.955ZM-0.969,1L0.406,-1L0.969,-1L-0.406,1ZM0.156,1L1.5,-0.955L1.5,-0.136L0.719,1ZM-1.5,-1L-1.281,-1L-1.5,-0.681ZM1.5,1L1.281,1L1.5,0.681Z"
                    ]},
                  "legend": {"orient": "none", "legendX": 74.05, "legendY": 27.5, "title": null, "symbolSize": 256, "symbolOpacity": 1, "symbolFillColor": "#000000", "symbolStrokeWidth": 0, "labelFontSize": 12, "labelFontWeight": "bold", "labelColor": "#111111", "labelOffset": 21.7, "labelLimit": 300, "rowPadding": 20, "padding": 0}}
              }
            }
          ]
        }
      ]
    }
  ]
}
